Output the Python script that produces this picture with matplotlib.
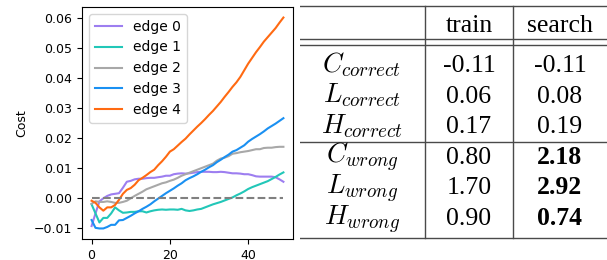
import matplotlib
matplotlib.use("Agg")
import matplotlib.pyplot as plt
import numpy as np

# Daten: Kosten pro Kante ueber die Schritte
steps = np.arange(50)

edge0 = [-0.0092, -0.0050, -0.0010, 0.0000, 0.0008, 0.0013, 0.0015, 0.0017, 0.0035, 0.0055,
         0.0058, 0.0063, 0.0065, 0.0065, 0.0067, 0.0068, 0.0068, 0.0070, 0.0072, 0.0075,
         0.0075, 0.0080, 0.0082, 0.0083, 0.0082, 0.0083, 0.0085, 0.0087, 0.0088, 0.0088,
         0.0088, 0.0087, 0.0087, 0.0088, 0.0087, 0.0085, 0.0083, 0.0083, 0.0082, 0.0080,
         0.0080, 0.0077, 0.0073, 0.0072, 0.0072, 0.0072, 0.0072, 0.0070, 0.0063, 0.0055]
edge1 = [-0.0020, -0.0050, -0.0080, -0.0065, -0.0065, -0.0050, -0.0030, -0.0040, -0.0048, -0.0047,
         -0.0045, -0.0045, -0.0043, -0.0043, -0.0047, -0.0043, -0.0040, -0.0038, -0.0037, -0.0038,
         -0.0037, -0.0037, -0.0038, -0.0035, -0.0040, -0.0042, -0.0040, -0.0037, -0.0035, -0.0030,
         -0.0025, -0.0020, -0.0016, -0.0012, -0.0007, -0.0002, 0.0003, 0.0010, 0.0016, 0.0023,
         0.0031, 0.0037, 0.0042, 0.0047, 0.0052, 0.0057, 0.0064, 0.0071, 0.0079, 0.0086]
edge2 = [-0.0018, -0.0010, -0.0012, -0.0012, -0.0010, -0.0012, -0.0015, -0.0015, -0.0012, -0.0008,
         0.0000, 0.0008, 0.0015, 0.0022, 0.0030, 0.0035, 0.0040, 0.0045, 0.0050, 0.0053,
         0.0058, 0.0062, 0.0068, 0.0075, 0.0080, 0.0085, 0.0090, 0.0095, 0.0100, 0.0105,
         0.0110, 0.0115, 0.0125, 0.0132, 0.0135, 0.0140, 0.0148, 0.0150, 0.0153, 0.0155,
         0.0157, 0.0160, 0.0163, 0.0163, 0.0167, 0.0168, 0.0168, 0.0170, 0.0171, 0.0171]
edge3 = [-0.0072, -0.0098, -0.0100, -0.0100, -0.0095, -0.0088, -0.0088, -0.0073, -0.0072, -0.0065,
         -0.0058, -0.0050, -0.0043, -0.0035, -0.0028, -0.0020, -0.0010, -0.0001, 0.0008, 0.0017,
         0.0025, 0.0033, 0.0042, 0.0050, 0.0060, 0.0067, 0.0073, 0.0080, 0.0088, 0.0095,
         0.0103, 0.0110, 0.0120, 0.0128, 0.0137, 0.0145, 0.0155, 0.0160, 0.0168, 0.0176,
         0.0188, 0.0197, 0.0205, 0.0213, 0.0222, 0.0232, 0.0240, 0.0248, 0.0257, 0.0266]
edge4 = [-0.0008, -0.0015, -0.0030, -0.0041, -0.0030, -0.0030, -0.0022, -0.0005, 0.0015, 0.0028,
         0.0034, 0.0045, 0.0060, 0.0068, 0.0077, 0.0087, 0.0095, 0.0110, 0.0123, 0.0138,
         0.0155, 0.0163, 0.0175, 0.0187, 0.0198, 0.0212, 0.0225, 0.0238, 0.0250, 0.0263,
         0.0277, 0.0290, 0.0305, 0.0320, 0.0337, 0.0353, 0.0370, 0.0385, 0.0403, 0.0425,
         0.0447, 0.0466, 0.0485, 0.0502, 0.0520, 0.0535, 0.0550, 0.0565, 0.0583, 0.0600]

edges = [edge0, edge1, edge2, edge3, edge4]
edge_labels = ["edge 0", "edge 1", "edge 2", "edge 3", "edge 4"]
colors = ["#9d7ef0", "#22c7b8", "#a8a8a8", "#1a90f2", "#ff6a12"]

# Tabelle
col_headers = ["train", "search"]
row_labels = [r"$C_{correct}$", r"$L_{correct}$", r"$H_{correct}$",
              r"$C_{wrong}$", r"$L_{wrong}$", r"$H_{wrong}$"]
train_vals = ["-0.11", "0.06", "0.17", "0.80", "1.70", "0.90"]
search_vals = ["-0.11", "0.08", "0.19", "2.18", "2.92", "0.74"]
search_bold = [False, False, False, True, True, True]

plt.rcParams["mathtext.fontset"] = "cm"

fig = plt.figure(figsize=(6.07, 2.60), dpi=100)

# Linienplot
ax = fig.add_axes([82 / 607, 21 / 260, 211 / 607, 232 / 260])
for vals, lab, c in zip(edges, edge_labels, colors):
    ax.plot(steps, vals, color=c, label=lab, lw=1.5)
ax.plot(steps, np.zeros(len(steps)), color="gray", ls="--", lw=1.5)
ax.set_ylabel("Cost", fontsize=9)
ax.set_yticks(np.arange(-0.01, 0.061, 0.01))
ax.set_xticks([0, 20, 40])
ax.tick_params(labelsize=9)
ax.legend(loc="upper left", fontsize=10, handlelength=2.0)

# Tabelle als eigene Achse (Pixel-Layout von oben)
tax = fig.add_axes([300 / 607, 0, 307 / 607, 1])
tax.set_xlim(0, 307)
tax.set_ylim(260, 0)
tax.axis("off")

col_x = [62, 169, 260]
header_base = 32
row_base = [72 + 30.6 * i for i in range(6)]
line_kw = dict(color="#4a4a4a", lw=1.0)

tax.axhline(6, **line_kw)
tax.axhline(39, **line_kw)
tax.axhline(45, **line_kw)
tax.axhline(142, **line_kw)
tax.axhline(238, **line_kw)
tax.plot([125, 125], [6, 238], **line_kw)
tax.plot([213, 213], [6, 238], **line_kw)

serif = "Liberation Serif"
for x, h in zip(col_x[1:], col_headers):
    tax.text(x, header_base, h, ha="center", va="baseline", fontsize=18.5, family=serif)

for i in range(6):
    y = row_base[i]
    tax.text(col_x[0], y, row_labels[i], ha="center", va="baseline", fontsize=19.5)
    tax.text(col_x[1], y, train_vals[i], ha="center", va="baseline", fontsize=18.5, family=serif)
    tax.text(col_x[2], y, search_vals[i], ha="center", va="baseline", fontsize=18.5, family=serif,
             fontweight="bold" if search_bold[i] else "normal")

fig.savefig("out.png", dpi=100)
